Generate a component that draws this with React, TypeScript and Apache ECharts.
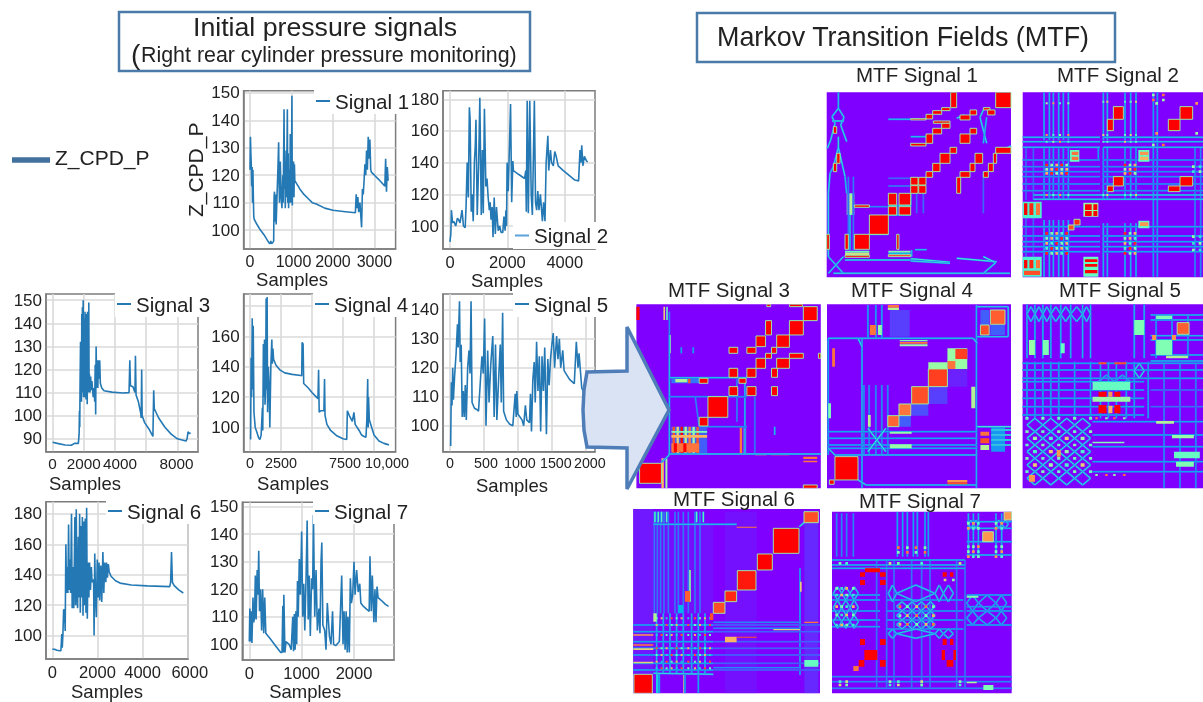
import React, { useEffect, useRef } from "react";
import * as echarts from "echarts";

const FONT = "Liberation Sans";
const INK = "#222222";

// ---------- pressure signals: [sample, pressure] ----------
const signal1 = [[0,122],[10,134],[20,128],[30,124],[40,116],[50,123],[60,110],[70,122],[80,112],[90,105],[100,104],[150,102.5],[250,100],[350,98],[450,95.5],[480,95],[500,96],[520,95],[550,95.5],[570,96],[580,112],[590,114],[600,103],[620,113],[630,102],[650,112],[670,121],[690,132],[700,118],[710,110],[730,125],[750,112],[770,108],[790,120],[800,110],[820,144],[830,115],[840,125],[850,108],[870,129],[880,112],[900,144],[910,110],[920,128],[930,108],[950,122],[960,110],[970,135],[980,110],[1000,125],[1010,149],[1020,109],[1030,122],[1040,112],[1050,125],[1060,112],[1070,124],[1080,118],[1200,115],[1300,113],[1400,111.5],[1500,110],[1600,109.5],[1800,108],[2000,107.2],[2300,106.7],[2540,106.3],[2560,113],[2580,108],[2600,112],[2620,106.5],[2650,110],[2690,101],[2710,115],[2730,113],[2750,118],[2770,124],[2790,120],[2810,129],[2830,122],[2850,134],[2870,126],[2890,133],[2910,122],[2930,121],[3000,120],[3100,118.5],[3220,116.5],[3250,116],[3270,126],[3290,114],[3310,123],[3330,118]];
const signal2 = [[0,90],[30,95],[50,110],[90,102],[130,103],[200,100],[260,105],[300,104],[350,102],[420,110],[470,100],[530,99],[560,112],[600,140],[640,118],[675,175],[700,168],[740,109],[770,120],[810,103],[850,140],[880,150],[905,167],[950,107],[1000,140],[1040,181],[1090,107],[1130,148],[1160,108],[1200,174],[1250,125],[1290,130],[1330,118],[1370,110],[1400,115],[1430,104],[1470,112],[1500,93],[1540,118],[1580,95],[1620,112],[1680,97],[1730,100],[1780,96],[1840,96],[1880,106],[1920,97],[1950,110],[1970,100],[1990,140],[2030,122],[2110,177],[2150,115],[2190,141],[2210,135],[2400,132.5],[2600,130],[2640,135],[2660,109],[2690,179],[2730,108],[2780,179],[2830,120],[2870,107],[2940,179],[2980,115],[3020,110],[3060,122],[3100,110],[3150,120],[3220,103],[3260,115],[3310,103],[3350,140],[3410,157],[3440,135],[3500,148],[3540,140],[3600,138],[3650,147],[3700,144],[3770,138],[3950,135],[4150,132],[4350,129],[4480,128.5],[4530,148],[4560,140],[4590,151],[4630,138],[4680,144],[4760,141],[4800,140.5]];
const signal3 = [[0,88.5],[300,88],[800,87.3],[1200,87.2],[1400,88],[1650,88],[1700,92],[1720,102],[1740,95],[1760,114],[1790,132],[1810,118],[1830,125],[1850,106],[1870,144],[1890,110],[1910,147],[1930,112],[1960,150],[1980,108],[2000,135],[2020,112],[2040,142],[2060,108],[2080,145],[2100,110],[2120,130],[2140,107],[2160,144],[2180,115],[2200,128],[2220,105],[2240,145],[2260,113],[2280,120],[2300,110],[2320,149],[2340,112],[2360,118],[2400,110],[2440,117],[2480,111],[2520,115],[2600,108],[2650,112],[2700,106],[2730,122],[2760,100.5],[2790,130],[2830,112],[2860,124],[2900,112],[2930,124],[2970,116],[3020,124],[3060,114],[3150,112],[3300,110.8],[3800,110.2],[4500,109.8],[4900,110],[4950,124],[4990,113],[5150,112.5],[5280,110],[5310,126],[5350,109],[5500,106],[5650,101],[5680,99],[5710,120],[5740,100],[5900,97],[6200,94],[6430,91],[6480,111],[6520,103],[6800,99],[7200,95],[7600,92],[8000,90],[8300,89.5],[8550,89],[8620,90],[8680,93],[8760,92.3],[8850,92.5]];
const signal4 = [[50,92],[90,146],[130,120],[180,172],[220,125],[260,167],[320,110],[420,100],[550,97],[700,93],[800,92],[900,95],[1000,113],[1030,98],[1080,155],[1120,120],[1170,158],[1210,115],[1260,125],[1300,185],[1340,125],[1380,186],[1420,110],[1480,140],[1540,128],[1600,100],[1680,140],[1760,158],[1800,142],[1850,152],[1900,145],[2100,141],[2400,138],[2800,136],[3400,135],[4100,134.3],[4170,134],[4200,156],[4280,155],[4330,129],[4700,126],[5000,123],[5300,120.5],[5480,119],[5530,138],[5580,110],[5700,111],[5960,111],[6010,132],[6050,108],[6200,102],[6500,98],[7000,94.5],[7500,92.5],[7800,92],[7850,111],[8000,108],[8250,104],[8380,110],[8480,102],[8800,98],[9000,95],[9200,94],[9350,93.5],[9420,105],[9490,132],[9530,100],[9560,120],[9620,105],[10000,95],[10400,91],[10800,89.5],[11200,88.5]];
const signal5 = [[10,93],[20,115],[30,107],[40,120],[50,109],[70,118],[90,125],[110,135],[120,127],[140,143],[150,122],[165,128],[180,103],[195,112],[210,103],[225,114],[240,102],[260,120],[280,126],[295,118],[310,143],[325,108],[360,106],[400,105.5],[420,105],[470,124],[490,118],[510,137],[530,100],[555,126],[575,108],[600,121],[630,131],[650,103],[670,128],[690,102],[720,118],[740,128],[755,108],[775,139],[790,105],[830,102],[880,100.5],[925,100],[960,111],[975,103],[985,112],[1000,104],[1060,102],[1085,100],[1110,107],[1130,102],[1170,101],[1185,111],[1200,98],[1220,116],[1240,122],[1255,108],[1275,129],[1295,112],[1315,124],[1335,98],[1355,124],[1375,112],[1395,127],[1420,97],[1440,123],[1460,114],[1480,123],[1500,128],[1520,132],[1540,120],[1570,131],[1590,123],[1610,130],[1630,120],[1660,126],[1680,119],[1760,116],[1830,114.5],[1860,129],[1885,120],[1900,125],[1940,113],[1985,111]];
const signal6 = [[0,91],[100,91],[200,90.3],[330,90],[380,90],[420,101],[440,92],[470,101],[500,117],[540,117],[570,103],[600,160],[630,128],[660,145],[690,128],[720,173],[750,130],[780,150],[810,128],[850,180],[880,118],[910,145],[950,118],[1000,178],[1030,120],[1060,183],[1090,125],[1120,118],[1150,165],[1180,125],[1210,180],[1240,115],[1270,172],[1300,125],[1330,178],[1360,113],[1400,175],[1430,120],[1460,177],[1490,115],[1520,184],[1550,111],[1580,148],[1620,125],[1650,148],[1690,130],[1730,145],[1760,135],[1800,137],[1830,134],[1850,100],[1880,154],[1910,128],[1950,112],[1990,150],[2030,125],[2070,148],[2100,123],[2150,146],[2190,122],[2240,155],[2280,128],[2320,148],[2370,135],[2400,148],[2440,138],[2480,147],[2520,142],[2600,139],[2800,136],[3000,134.5],[3500,133.2],[4200,132.7],[5200,132.2],[5240,135],[5280,155],[5320,135],[5400,132.8],[5600,130],[5800,128]];
const signal7 = [[0,101],[10,113],[20,101],[35,112],[50,100.5],[70,117],[85,108],[100,110],[115,125],[130,109],[150,127],[165,118],[180,134],[195,112],[215,120],[235,105],[255,120],[275,104],[295,117],[315,104],[400,102],[500,99.5],[600,97],[625,97],[640,114],[650,97],[660,118],[680,97],[700,101],[760,100],[800,98],[830,110],[845,97.5],[860,111],[875,98],[890,112],[905,100],[920,123],[935,110],[955,131],[975,118],[1000,141],[1020,110],[1040,122],[1060,105],[1085,125],[1105,145],[1125,109],[1145,125],[1165,103],[1190,124],[1210,120],[1225,147],[1250,110],[1275,127],[1300,105],[1330,113],[1350,104],[1370,130],[1385,137],[1405,107],[1440,105],[1465,98],[1490,115],[1530,103],[1560,100],[1590,112],[1610,100],[1650,99.5],[1720,101],[1765,125],[1790,100],[1810,112],[1830,98],[1850,112],[1870,97],[1885,110],[1910,97],[1930,124],[1950,115],[1975,118],[2000,130],[2020,118],[2050,127],[2080,119],[2110,122],[2130,115],[2170,114],[2240,112.8],[2290,112],[2305,132],[2330,112],[2350,125],[2380,108],[2400,120],[2420,108],[2440,121],[2460,117],[2520,116],[2600,114.5],[2660,113.8]];

const signalNames = ["Signal 1","Signal 2","Signal 3","Signal 4","Signal 5","Signal 6","Signal 7"];
const signalData = [signal1,signal2,signal3,signal4,signal5,signal6,signal7];

const xTicks = [[0,1000,2000,3000],[0,2000,4000],[0,2000,4000,6000,8000],[0,2500,5000,7500,10000],[0,500,1000,1500,2000],[0,2000,4000,6000],[0,1000,2000]];
const xLabels = [[0,1000,2000,3000],[0,2000,4000],[0,2000,4000,8000],[0,2500,7500,10000],[0,500,1000,1500,2000],[0,2000,4000,6000],[0,1000,2000]];
const yTicks = [[100,110,120,130,140,150],[100,120,140,160,180],[90,100,110,120,130,140,150],[100,120,140,160,180],[100,110,120,130,140],[100,120,140,160,180],[100,110,120,130,140,150]];
const yLabels = [[100,110,120,130,140,150],[100,120,140,160,180],[90,100,110,120,130,140,150],[100,120,140,160],[100,110,120,130,140],[100,120,140,160,180],[100,110,120,130,140,150]];
// a few tick labels sit off their ticks in the picture: [label value, px shift]
const labelShift: Record<number, number>[] = [{ 1000: 2 }, {}, { 4000: 5, 8000: -1 }, { 7500: 2, 10000: 13 }, { 1500: 4, 2000: 4, 500: 2, 1000: 2 }, { 6000: 2 }, {}];
const xFont = [16, 16.5, 15.3, 14.4, 14.3, 16.5, 16.5];

const frames = [
  { l: 243.6, r: 395.6, t: 90.7, b: 249, xMin: -155, xMax: 3510, yMin: 93.1, yMax: 150.8, pad: 55, legend: [314, 88, 96, 25], gap: 21 },
  { l: 443, r: 595, t: 90.7, b: 249, xMin: -243, xMax: 5052, yMin: 85.5, yMax: 185.4, pad: 24, legend: [513, 222, 97, 26], gap: 21 },
  { l: 46, r: 198, t: 294, b: 451.7, xMin: -423, xMax: 9320, yMin: 84.4, yMax: 152.7, pad: 74, legend: [115, 291, 99, 25], gap: 22 },
  { l: 243.6, r: 395.6, t: 294, b: 451.7, xMin: -516, xMax: 11740, yMin: 84, yMax: 188, pad: 53, legend: [313, 291, 90, 25], gap: 22 },
  { l: 443, r: 595, t: 294, b: 451.7, xMin: -103, xMax: 2135, yMin: 91, yMax: 145.5, pad: 14, legend: [513, 291, 97, 25], gap: 24 },
  { l: 46, r: 188, t: 501.7, b: 659, xMin: -280, xMax: 6010, yMin: 84.6, yMax: 188, pad: 20, legend: [106, 498, 97, 25], gap: 23 },
  { l: 242.3, r: 394, t: 502.3, b: 660, xMin: -134, xMax: 2764, yMin: 94.3, yMax: 151.6, pad: 26, legend: [313, 498, 95, 25], gap: 22 },
];

// ---------- Markov transition fields ----------
// kinds: 0 block with a rim, 1 line, 2 plain block. Values are field levels 0..1.
type Row = number[];
const blocks = (l: Row[]) => l.map((r) => [...r, 0]);
const lines = (l: Row[]) => l.map((r) => [...r, 1]);
const plain = (l: Row[]) => l.map((r) => [...r, 2]);
const vLines = (xs: number[], y0: number, y1: number, v: number) => xs.map((x) => [x, y0, x, y1, v, 1]);
const hLines = (ys: number[], x0: number, x1: number, v: number) => ys.map((y) => [x0, y, x1, y, v, 1]);
const dots = (xs: number[], ys: number[], s: number, vals: number[]) => {
  const out: Row[] = [];
  ys.forEach((y, j) => xs.forEach((x, i) => out.push([x - s, y - s, x + s, y + s, vals[(i + j) % vals.length], 2])));
  return out;
};
const crosses = (xs: number[], ys: number[], v: number) => {
  const out: Row[] = [];
  for (let j = 0; j < ys.length - 1; j++) for (let i = 0; i < xs.length - 1; i++) {
    const mx = (xs[i] + xs[i + 1]) / 2, my = (ys[j] + ys[j + 1]) / 2;
    out.push([mx, ys[j], xs[i + 1], my, v, 1], [xs[i + 1], my, mx, ys[j + 1], v, 1], [mx, ys[j + 1], xs[i], my, v, 1], [xs[i], my, mx, ys[j], v, 1]);
  }
  return out;
};

const mtf1 = [
  ...plain([[80,400,103,465,0.5],[85,405,97,460,0.6],[75,572,148,578,0.45],[75,578,148,586,0.65],[205,572,272,578,0.5],[205,578,272,582,0.25]]),
  ...vLines([85,100],350,570,0.18),
  ...vLines([290,310],400,460,0.15),
  ...vLines([490],335,460,0.15),
  ...vLines([90],465,570,0.3),
  ...hLines([378],205,272,0.18),
  ...hLines([355],205,272,0.15),
  ...hLines([569],285,320,0.3),
  ...hLines([440],148,205,0.2),
  ...lines([
    [55,97,55,145,0.3],[55,145,36,170,0.35],[36,170,45,190,0.35],[45,190,32,240,0.35],[32,240,22,265,0.35],
    [55,145,72,172,0.35],[72,172,62,195,0.35],[62,195,80,245,0.35],[36,183,72,183,0.35],[55,230,55,262,0.35],
    [55,262,40,320,0.35],[40,320,30,340,0.3],[30,340,25,400,0.35],[25,400,25,590,0.35],[55,262,75,350,0.35],[75,350,80,400,0.3],
    [25,590,70,640,0.35],[70,590,25,640,0.35],[40,640,570,640,0.35],[75,600,272,600,0.35],[272,596,390,607,0.4],[272,603,390,610,0.35],
    [410,595,530,605,0.4],[490,590,527,608,0.4],[527,608,490,640,0.35],[205,178,272,178,0.3],[272,230,318,230,0.3],
    [410,175,432,165,0.35],[490,150,480,172,0.35],[480,172,500,250,0.35],[500,172,490,250,0.3],[272,400,272,440,0.3],[205,465,272,465,0.3],
    [527,280,573,258,0.35],[148,523,205,523,0.4],[275,570,275,590,0.3],[230,440,230,465,0.35],[205,437,272,437,0.3],
  ]),
  ...blocks([
    [527,97,573,143,1],[392,97,410,143,1],[365,143,390,152,1],[338,152,365,163,1],[318,163,338,177,1],[272,176,318,180,1],
    [340,183,390,190,1],[365,190,390,205,1],[338,205,365,222,1],[318,222,338,250,1],[272,250,318,258,1],[527,262,573,280,1],
    [520,280,530,310,1],[505,310,520,335,1],[490,335,505,352,1],[390,262,410,280,1],[360,280,390,310,1],[338,310,360,335,1],[318,335,338,352,1],
    [272,352,294,375,1],[296,352,318,375,1],[272,377,294,400,1],[296,377,318,400,1],[205,400,230,435,1],[237,400,272,435,1],[205,440,230,465,1],[237,440,272,465,1],
    [148,465,205,523,1],[103,523,148,568,1],[75,523,85,568,1],[230,523,237,568,1],[103,435,148,442,1],[20,523,28,568,1],
    [490,143,510,150,1],[450,150,470,165,1],[420,165,450,180,1],[503,150,525,165,1],[450,205,470,222,1],[420,222,450,250,1],
    [465,280,488,310,1],[450,310,465,335,1],[420,335,450,352,1],[410,352,422,400,1],[40,200,50,220,1],[40,310,50,335,1],[50,280,60,310,1],
    [75,586,148,592,1],[205,584,272,590,0.92],
  ]),
];

const mtf2 = [
  ...vLines([672,688,700,716,730,745],97,240,0.28),
  ...vLines([672,688,700,716,730,745],265,420,0.25),
  ...vLines([672,688,700,716,730,745],480,650,0.28),
  ...vLines([850,862,915,932,948],97,240,0.28),
  ...vLines([850,862,915,932,948],262,420,0.25),
  ...vLines([850,862,915,932,948],490,650,0.28),
  ...vLines([1000,1012],97,650,0.25),
  ...vLines([835],262,300,0.25),
  ...vLines([1125,1142],262,650,0.2),
  ...vLines([618,640],265,420,0.14),
  ...vLines([618,640],475,590,0.14),
  ...hLines([232,245,262],608,840,0.3),
  ...hLines([232,245,262],850,1149,0.3),
  ...hLines([300,320,335,350,372,392],608,840,0.22),
  ...hLines([300,320,335,350,372,392],850,1149,0.22),
  ...hLines([405,418],640,1149,0.32),
  ...hLines([500,528,545,560,575],608,840,0.26),
  ...hLines([500,528,545,560,575],850,1149,0.26),
  ...dots([680,695,710,725,740],[315,328,340],4,[0.95,0.55,0.75]),
  ...dots([915,930,945],[315,328,340],4,[0.95,0.55,0.75]),
  ...dots([680,695,710,725,740],[520,535,550,565,580],4,[0.95,0.5,0.75,0.4]),
  ...dots([915,930,945],[520,535,550,565,580],4,[0.95,0.5,0.75,0.4]),
  ...dots([680,700,720,745],[130,225,245],3,[0.55,0.8,0.4]),
  ...dots([850,862,915,932,948],[125,225,245,405],3,[0.45,0.7,0.4]),
  ...dots([680,700,720,745],[405],3,[0.8,0.45]),
  ...dots([1120,1140],[320,335,530,550,570],4,[0.55,0.35]),
  ...dots([1000,1030],[105,120,255],4,[0.55,0.85]),
  ...dots([1010,1130],[130,220],4,[0.55,0.8]),
  ...blocks([[880,140,910,178,1],[862,178,880,212,1],[1080,140,1118,178,1],[1045,178,1080,212,1],[880,350,910,378,1],[862,378,880,395,1],[1080,350,1118,378,1],[1045,378,1080,395,1],[762,478,780,495,0.95],[745,495,762,510,0.9]]),
  ...plain([[790,428,835,470,0.55],[795,433,815,450,1],[820,433,832,450,1],[795,453,815,468,1],[820,453,832,468,1]]),
  ...plain([[608,425,665,475,0.4],[612,430,622,465,1],[628,430,640,465,0.95],[648,430,660,465,0.85]]),
  ...plain([[608,590,665,650,0.4],[612,600,622,625,1],[628,600,640,625,0.95],[648,600,660,625,0.85],[612,632,660,645,0.9]]),
  ...plain([[790,590,835,650,0.45],[795,598,832,606,1],[795,612,832,620,1],[795,630,832,640,1]]),
  ...plain([[750,270,778,305,0.45],[755,275,775,285,0.85],[755,290,775,300,0.85],[955,270,988,305,0.45],[960,275,985,285,0.8],[960,290,985,300,0.75],[955,482,988,505,0.45],[960,487,985,498,0.8]]),
];

const mtf3 = [
  ...plain([[230,455,320,535,0.12]]),
  ...plain([[233,455,239,535,0.9],[243,455,249,535,0.7],[253,455,259,535,1],[263,455,269,535,0.6],[273,455,279,535,0.85],[283,455,289,535,0.55],[293,455,299,535,0.9]]),
  ...plain([[230,468,320,473,0.5],[230,480,320,488,0.75],[230,505,300,532,0.85],[236,505,244,532,1],[260,505,268,532,1]]),
  ...plain([[402,455,408,535,0.85],[412,455,418,535,0.55],[205,550,211,640,0.75],[215,550,220,640,0.55],[142,95,150,135,1],[210,95,214,135,0.7],[217,95,221,135,0.45],[562,545,597,552,0.85],[562,557,597,562,0.85],[230,310,300,325,0.15],[240,312,270,322,0.6],[272,310,278,325,0.9],[440,535,470,541,0.8],[480,535,527,541,0.85],[225,180,229,235,0.6]]),
  ...vLines([225],180,540,0.3),
  ...vLines([415],308,540,0.3),
  ...vLines([440],365,540,0.18),
  ...vLines([255,285],217,235,0.25),
  ...vLines([490],455,480,0.3),
  ...hLines([537],222,606,0.32),
  ...hLines([308],225,420,0.3),
  ...hLines([365],225,420,0.22),
  ...hLines([455],300,420,0.22),
  ...lines([[205,562,225,540,0.35],[225,180,225,110,0.2],[395,310,395,440,0.2],[290,365,300,455,0.2]]),
  ...blocks([[562,95,597,137,1],[527,137,562,180,1],[495,180,527,217,1],[443,183,467,215,1],[467,137,482,180,1],[527,235,562,250,1],[495,250,527,280,1],[443,250,467,280,1],[467,235,482,250,1],[482,217,495,235,1],[420,217,443,235,1],[375,217,397,235,1],[375,280,397,307,1],[420,280,443,307,1],[482,280,497,307,1],[375,335,397,362,1],[420,335,443,362,1],[482,335,497,362,1],[322,365,372,427,1],[300,427,322,453,1],[150,565,205,625,1],[300,310,322,325,1],[400,310,418,325,1],[562,630,597,640,1],[527,88,560,95,1],[470,88,480,95,1],[600,235,606,250,1]]),
];

const mtf4 = [
  ...plain([[1033,150,1070,180,0.12],[1008,105,1030,150,0.12],[803,422,833,455,0.12],[835,387,877,422,0.1],[877,335,925,387,0.08],[1035,455,1070,530,0.2],[925,282,975,335,0.04],[780,105,830,185,0.08]]),
  ...vLines([710],190,640,0.28),
  ...vLines([998],90,640,0.28),
  ...vLines([725,745,760],90,190,0.26),
  ...vLines([715,728,745,760,775],330,540,0.22),
  ...vLines([625],190,540,0.26),
  ...hLines([190],625,990,0.3),
  ...hLines([540],640,1000,0.3),
  ...hLines([470,490,510,520],625,1000,0.26),
  ...hLines([465,480,495,510],1035,1085,0.4),
  ...lines([[625,520,642,540,0.35],[700,615,720,630,0.35],[720,630,1000,630,0.3],[990,190,1000,205,0.35],[710,215,700,190,0.35],[1000,95,1078,95,0.32],[1078,95,1078,185,0.32],[1000,185,1078,185,0.32],[1000,455,1085,455,0.4],[725,460,770,530,0.4],[770,460,725,530,0.4]]),
  ...plain([[805,195,875,199,0.5],[805,201,875,206,0.85],[805,208,875,214,0.55],[775,90,803,98,0.85],[775,98,803,105,0.6],[730,150,745,180,0.85],[750,150,760,180,0.55],[925,615,975,622,0.8],[925,622,975,628,0.9],[1008,470,1030,482,0.85],[1008,490,1030,505,0.9],[1008,510,1030,525,0.6],[635,220,642,275,0.85],[985,335,995,400,0.6],[625,385,632,430,0.5],[725,420,732,455,0.6],[780,470,835,476,0.55],[780,508,835,520,0.55]]),
  ...plain([[925,220,975,282,0.55],[945,222,975,252,0.92],[925,258,945,282,0.85],[877,262,925,282,0.55]]),
  ...blocks([[1033,105,1070,148,0.88],[1008,150,1030,180,0.9],[835,335,877,387,0.9],[877,282,925,335,0.92],[803,387,833,422,0.85],[775,422,803,455,0.87],[642,545,700,615,1],[628,615,640,628,1]]),
];

const mtf5 = [
  ...vLines([1125,1145,1165,1185,1210,1235,1265,1285],88,250,0.28),
  ...vLines([1395,1420],88,250,0.28),
  ...vLines([1125,1145,1165,1185,1205,1245,1285,1310,1330,1350,1375,1395,1430],260,430,0.26),
  ...vLines([1450,1490,1530],120,250,0.24),
  ...vLines([1470,1510,1550],265,430,0.2),
  ...vLines([1470,1510,1550],430,640,0.22),
  ...hLines([265,285,310],1114,1568,0.26),
  ...hLines([320,345,370,395,420],1114,1420,0.26),
  ...hLines([120,135,182,195,240,258],1436,1568,0.28),
  ...hLines([345,395],1436,1568,0.16),
  ...hLines([440,480,515,560,590],1290,1568,0.26),
  ...crosses([1125,1165,1205,1245,1285],[430,470,510,550,590,630],0.36),
  ...crosses([1125,1145,1165,1185,1210,1235,1265,1285],[95,140],0.32),
  ...crosses([1395,1420],[265,310],0.36),
  ...crosses([1305,1345,1385],[300,340],0.28),
  ...plain([[1450,195,1490,240,0.5],[1130,195,1145,240,0.55],[1165,195,1180,240,0.5],[1210,205,1220,235,0.45],[1395,135,1420,180,0.5],[1450,122,1490,132,0.5],[1475,242,1530,250,0.6],[1440,180,1450,195,0.8],[1490,180,1500,195,0.8],[1290,320,1385,345,0.45],[1290,365,1385,380,0.55],[1450,438,1495,446,0.6],[1490,480,1545,490,0.55],[1290,500,1370,505,0.5],[1130,600,1145,620,0.8],[1200,525,1210,545,0.8],[1495,530,1560,550,0.45],[1500,560,1545,575,0.5]]),
  ...dots([1145,1185,1225,1265],[490,530,570],5,[0.55,0.4,0.7]),
  ...dots([1300,1325,1345,1370],[430,600],3,[0.85,0.55]),
  ...dots([1125,1165,1205,1245,1285],[430,470,510,550,590],4,[0.45,0.5]),
  ...plain([[1305,350,1325,365,1],[1345,350,1360,365,1],[1305,390,1325,415,1],[1345,390,1360,415,1],[1330,350,1340,365,0.8],[1330,392,1340,415,0.75],[1305,262,1325,268,0.9],[1345,262,1375,268,0.9]]),
  ...blocks([[1503,143,1533,178,0.88]]),
];

const mtf6 = [
  ...plain([[553,80,595,625,0.05],[315,80,410,625,0.02],[40,72,100,568,0.03],[100,120,280,385,0.02]]),
  ...vLines([103,112,122,132,145,165,175,190,205,225,240],80,385,0.18),
  ...vLines([110,130,150,170,190,215,235,255],385,565,0.28),
  ...vLines([540],250,570,0.26),
  ...vLines([210],255,350,0.7),
  ...vLines([105,115,125,140,230,250],80,112,0.5),
  ...hLines([118],100,350,0.3),
  ...hLines([420,440,470,490,510,535,555],40,280,0.26),
  ...hLines([420,440,470,490,510,535,555],280,600,0.14),
  ...hLines([412,430,548],280,540,0.2),
  ...lines([[538,125,552,113,0.4],[100,565,280,568,0.35]]),
  ...dots([110,125,140,155,170,185,205,225,240,255,270],[400,420,450,490,510,530,550],3,[0.45,0.75,0.3,0.9]),
  ...plain([[175,360,190,385,0.25],[270,385,280,405,0.9],[100,385,110,410,0.6],[40,448,100,452,0.8],[40,478,100,482,0.85],[40,490,100,495,0.7],[40,530,100,535,0.7],[350,125,410,128,0.85],[315,455,350,472,0.75],[350,455,410,458,0.9],[460,432,540,436,0.7],[553,410,595,414,0.85],[553,525,595,545,0.45],[195,318,210,350,0.88],[540,290,545,320,0.7],[108,568,118,625,0.3],[190,570,195,625,0.7]]),
  ...vLines([118,195,235],568,625,0.26),
  ...blocks([[460,130,537,205,1],[412,207,457,255,1],[352,257,408,315,0.97],[315,318,350,350,0.95],[280,352,315,385,0.9],[552,80,595,113,0.9],[42,568,97,625,1]]),
];

const mtf7 = [
  ...vLines([832,848,862,880,892,915,925],80,215,0.26),
  ...vLines([770,800,822,875,905,930,1010,1035],225,610,0.17),
  ...vLines([1045,1060,1075,1128,1145],85,215,0.28),
  ...vLines([650,665,680,700],85,215,0.2),
  ...hLines([225,240,250],636,1035,0.28),
  ...hLines([110,130,170,210],1040,1175,0.28),
  ...hLines([330,345,378,405,425],636,780,0.26),
  ...hLines([330,365,378,420],1040,1175,0.26),
  ...hLines([345,378,405,432],800,1030,0.24),
  ...hLines([575,590,610],636,1175,0.2),
  ...crosses([830,862,890,918,945],[350,378,405,432],0.34),
  ...crosses([640,665,690,715],[305,345,390,430],0.32),
  ...crosses([1040,1075,1128,1160],[330,378,420],0.28),
  ...crosses([805,830,945,970,1000],[300,350],0.32),
  ...crosses([805,830,945,970,1000],[432,460],0.32),
  ...crosses([1045,1060,1075],[105,130],0.32),
  ...crosses([1128,1145,1165],[105,130],0.32),
  ...dots([840,862,890,918,940],[365,392,418],4,[0.85,0.5,0.75]),
  ...dots([650,665,680,700],[310,330,365,390,420],4,[0.5,0.35,0.75]),
  ...dots([835,862,888,915],[188,202],4,[0.85,0.5]),
  ...dots([1045,1060,1075,1128,1145],[115,130,185,200,215],4,[0.5,0.8,0.4]),
  ...dots([660,680,810,835,905,1020],[235,590,600],4,[0.5,0.4,0.65]),
  ...dots([975,1000],[285],4,[0.7,0.55]),
  ...plain([[1090,600,1120,615,0.5],[1040,590,1070,595,0.6],[1040,332,1075,338,0.5]]),
  ...plain([[733,495,765,525,1],[735,250,780,262,1],[720,262,735,275,1],[780,262,797,275,1],[720,462,735,480,1],[780,462,797,480,1],[780,285,797,300,1],[720,285,735,300,1],[968,262,980,275,1],[990,262,1000,275,1],[968,462,980,480,1],[990,462,1000,480,1],[1000,495,1008,525,1],[980,525,1000,545,1],[716,525,733,545,1],[780,525,797,545,1],[700,543,716,558,0.85],[765,495,772,525,1],[965,495,975,525,1]]),
  ...blocks([[1088,140,1120,170,0.8],[1152,80,1175,105,0.8]]),
];

const fields = [
  { name: "MTF Signal 1", cells: mtf1, l: 826.7, r: 1011, t: 92.3, b: 277.3, x0: 20, x1: 573, y0: 97, y1: 652, tx: 917, ty: 74 },
  { name: "MTF Signal 2", cells: mtf2, l: 1022.7, r: 1203, t: 92.3, b: 277.3, x0: 608, x1: 1149, y0: 97, y1: 652, tx: 1118, ty: 74 },
  { name: "MTF Signal 3", cells: mtf3, l: 636.4, r: 820.8, t: 304.3, b: 488.3, x0: 142, x1: 606, y0: 88, y1: 640, tx: 729, ty: 289 },
  { name: "MTF Signal 4", cells: mtf4, l: 827, r: 1011, t: 304.3, b: 488.3, x0: 622, x1: 1085, y0: 88, y1: 640, tx: 912, ty: 289 },
  { name: "MTF Signal 5", cells: mtf5, l: 1022.6, r: 1203, t: 304.3, b: 488.3, x0: 1114, x1: 1568, y0: 88, y1: 640, tx: 1120, ty: 289 },
  { name: "MTF Signal 6", cells: mtf6, l: 633.3, r: 820, t: 509, b: 693.3, x0: 40, x1: 600, y0: 72, y1: 625, tx: 734, ty: 498 },
  { name: "MTF Signal 7", cells: mtf7, l: 832, r: 1011.7, t: 511.7, b: 693.3, x0: 636, x1: 1175, y0: 80, y1: 625, tx: 920, ty: 500 },
];

// matplotlib "rainbow" colour map
const rainbow = (v: number) => {
  const ch = (c: number) => Math.round(Math.max(0, Math.min(1, c)) * 255);
  return `rgb(${ch(Math.abs(2 * v - 0.5))},${ch(Math.sin(Math.PI * v))},${ch(Math.cos((Math.PI * v) / 2))})`;
};

const renderCell = (_: any, api: any) => {
  const a = api.coord([api.value(0), api.value(1)]);
  const b = api.coord([api.value(2), api.value(3)]);
  const v = api.value(4);
  const kind = api.value(5);
  if (kind === 1) {
    const shape = { x1: a[0], y1: a[1], x2: b[0], y2: b[1] };
    return {
      type: "group",
      children: [
        { type: "line", shape, style: { stroke: rainbow(Math.max(0.08, v * 0.5)), lineWidth: 2, fill: null } },
        { type: "line", shape, style: { stroke: rainbow(v), lineWidth: 0.9, fill: null } },
      ],
    };
  }
  return {
    type: "rect",
    shape: { x: a[0], y: a[1], width: b[0] - a[0], height: b[1] - a[1] },
    style: { fill: rainbow(v), stroke: kind === 0 && v > 0.7 ? rainbow(0.55) : null, lineWidth: 0.9 },
  };
};

const text = (t: string, x: number, y: number, size: number, align = "center", extra: any = {}) => ({
  type: "text", z: 20, x, y,
  style: { text: t, fontFamily: FONT, fontSize: size, fill: INK, align, verticalAlign: "middle", ...extra },
});

function buildOption() {
  const grids: any[] = [];
  const xAxes: any[] = [];
  const yAxes: any[] = [];
  const series: any[] = [];
  const legends: any[] = [];

  frames.forEach((f, i) => {
    grids.push({ left: f.l, top: f.t, width: f.r - f.l, height: f.b - f.t, show: true, borderColor: "#7d7d7d", borderWidth: 1.5, backgroundColor: "#ffffff" });
    const shifts = labelShift[i];
    const rich: any = { n: { fontFamily: FONT, fontSize: xFont[i], color: INK } };
    xLabels[i].forEach((v) => {
      const s = shifts[v];
      if (s) rich["s" + v] = { fontFamily: FONT, fontSize: xFont[i], color: INK, padding: s > 0 ? [0, 0, 0, 2 * s] : [0, -2 * s, 0, 0] };
    });
    xAxes.push({
      type: "value", gridIndex: i, min: f.xMin, max: f.xMax,
      name: "Samples", nameLocation: "middle", nameGap: f.gap,
      nameTextStyle: { fontFamily: FONT, fontSize: 18.5, color: INK, padding: [0, f.pad, 0, 0] },
      axisLine: { show: true, onZero: false, lineStyle: { color: "#7d7d7d", width: 1.5 } },
      axisTick: { show: false, customValues: xTicks[i] },
      axisLabel: {
        customValues: xLabels[i], hideOverlap: false, showMinLabel: true, showMaxLabel: true, margin: 4,
        fontFamily: FONT, fontSize: xFont[i], color: INK, rich,
        formatter: (v: number) => {
          const t = v === 10000 ? "10,000" : String(v);
          return shifts[v] ? `{s${v}|${t}}` : `{n|${t}}`;
        },
      },
      splitLine: { show: true, lineStyle: { color: "#dadada", width: 1.6 } },
    });
    yAxes.push({
      type: "value", gridIndex: i, min: f.yMin, max: f.yMax,
      ...(i === 0 ? { name: "Z_CPD_P", nameLocation: "middle", nameGap: 38, nameTextStyle: { fontFamily: FONT, fontSize: 21, color: INK } } : {}),
      axisLine: { show: true, onZero: false, lineStyle: { color: "#7d7d7d", width: 1.5 } },
      axisTick: { show: false, customValues: yTicks[i] },
      axisLabel: { customValues: yLabels[i], hideOverlap: false, margin: 4, fontFamily: FONT, fontSize: 17, color: INK },
      splitLine: { show: true, lineStyle: { color: "#dadada", width: 1.6 } },
    });
    series.push({
      type: "line", name: signalNames[i], xAxisIndex: i, yAxisIndex: i, data: signalData[i],
      showSymbol: false, symbol: "none", clip: true, lineStyle: { color: "#2479b5", width: 1.6 }, itemStyle: { color: i === 1 ? "#5ba3d9" : "#2479b5" }, z: 3,
    });
    const [lx, ly, lw, lh] = f.legend;
    legends.push({
      show: true, data: [signalNames[i]], left: lx, top: ly, orient: "horizontal",
      padding: [Math.max(0, (lh - 20) / 2), 0, Math.max(0, (lh - 20) / 2), 2],
      itemWidth: 14, itemHeight: 2, itemGap: 0, icon: "rect", selectedMode: false,
      backgroundColor: "#ffffff", width: lw,
      textStyle: { fontFamily: FONT, fontSize: 20.5, color: INK },
    });
  });

  fields.forEach((f, k) => {
    const i = frames.length + k;
    grids.push({ left: f.l, top: f.t, width: f.r - f.l, height: f.b - f.t, show: true, borderWidth: 0, backgroundColor: "#7f00ff" });
    xAxes.push({ type: "value", gridIndex: i, min: f.x0, max: f.x1, show: false, splitLine: { show: false } });
    yAxes.push({ type: "value", gridIndex: i, min: f.y0, max: f.y1, inverse: true, show: false, splitLine: { show: false } });
    series.push({
      type: "custom", name: f.name, xAxisIndex: i, yAxisIndex: i, data: f.cells, renderItem: renderCell, clip: true, silent: true, z: 3,
      encode: { x: [0, 2], y: [1, 3] },
    });
  });

  const graphic: any[] = [
    { type: "rect", z: 15, shape: { x: 119, y: 12, width: 411, height: 59 }, style: { fill: "#fff", stroke: "#4a7ba8", lineWidth: 2.5 } },
    { type: "rect", z: 15, shape: { x: 697, y: 13, width: 418, height: 49 }, style: { fill: "#fff", stroke: "#4a7ba8", lineWidth: 2.5 } },
    text("Initial pressure signals", 325, 27, 26.7),
    text("(", 131, 54, 28, "left"),
    text("Right rear cylinder pressure monitoring)", 141, 55, 21.4, "left"),
    text("Markov Transition Fields (MTF)", 903, 37, 26.9),
    text("Z_CPD_P", 55, 157, 21, "left"),
    { type: "line", z: 15, shape: { x1: 12, y1: 160, x2: 50, y2: 160 }, style: { stroke: "#41719c", lineWidth: 5.5 } },
    ...fields.map((f) => text(f.name, f.tx, f.ty, 20.5)),
    {
      type: "polygon", z: 30,
      shape: { points: [[587,372],[627,371],[627,327],[669,410],[627,489],[627,448],[587,447],[584,430],[583,410],[584,390]] },
      style: { fill: "#dae3f3", stroke: "#4f7db8", lineWidth: 3.5, lineJoin: "miter" },
    },
  ];

  return { animation: false, backgroundColor: "#ffffff", grid: grids, xAxis: xAxes, yAxis: yAxes, series, legend: legends, graphic, tooltip: { show: false } };
}

export default function App() {
  const ref = useRef<HTMLDivElement>(null);
  useEffect(() => {
    document.body.style.margin = "0";
    const chart = echarts.init(ref.current!, null, { renderer: "svg" });
    chart.setOption(buildOption() as any);
    return () => chart.dispose();
  }, []);
  return <div ref={ref} style={{ width: 1203, height: 702, overflow: "hidden", filter: "blur(0.45px)" }} />;
}
